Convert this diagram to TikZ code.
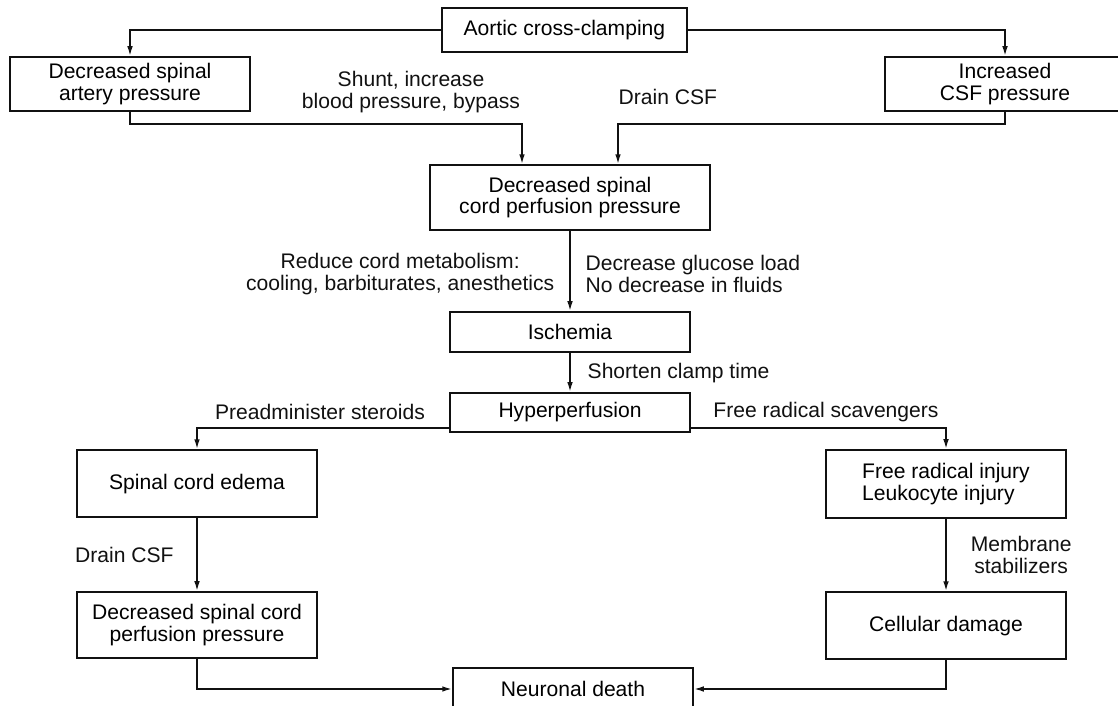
\documentclass[tikz,border=0pt]{standalone}
\usepackage{fontspec}
\setmainfont{Liberation Sans}
\usetikzlibrary{arrows.meta, positioning, calc}
\definecolor{InkBlack}{HTML}{111111}
\tikzset{
    % Node styles - plain boxes
    stagebox/.style={
        rectangle,
        draw=InkBlack,
        line width=1.3pt,
        fill=white,
        align=center,
        inner sep=2pt,
        minimum width=6cm,
        font=\fontsize{15}{15.5}\selectfont
    },
    % Text on the connectors
    treatlabel/.style={
        inner sep=1pt,
        text=InkBlack,
        font=\fontsize{15}{15.5}\selectfont
    },
    % Arrow styles
    myarrow/.style={
        -{Latex[length=7pt,width=4pt]},
        line width=1.2pt,
        InkBlack
    }
}
\begin{document}
\begin{tikzpicture}
    \useasboundingbox (0,0) rectangle (27.95,17.65);

    \node[stagebox, minimum width=6.125cm, minimum height=1.1cm] (aortic) at (14.11,16.9) {Aortic cross-clamping};
    \node[stagebox, minimum height=1.35cm] (artery) at (3.25,15.55) {Decreased spinal\\artery pressure};
    \node[stagebox, minimum height=1.35cm] (csf) at (25.125,15.55) {Increased\\CSF pressure};
    \node[stagebox, minimum width=7cm, minimum height=1.625cm] (cordpp) at (14.25,12.71) {Decreased spinal\\cord perfusion pressure};
    \node[stagebox, minimum height=1cm] (isch) at (14.25,9.35) {Ischemia};
    \node[stagebox, minimum height=0.975cm] (hyper) at (14.25,7.34) {Hyperperfusion};
    \node[stagebox, minimum height=1.675cm] (edema) at (4.925,5.56) {Spinal cord edema};
    \node[stagebox, minimum height=1.7cm, align=left] (freerad) at (23.65,5.55) {Free radical injury\\Leukocyte injury};
    \node[stagebox, minimum height=1.65cm] (lowcord) at (4.925,2.025) {Decreased spinal cord\\perfusion pressure};
    \node[stagebox, minimum height=1.675cm] (cellular) at (23.65,2.01) {Cellular damage};
    \node[stagebox, minimum height=1.05cm] (neuronal) at (14.325,0.425) {Neuronal death};

    % labels
    \node[treatlabel, align=center] (shuntlbl) at (10.275,15.34) {Shunt, increase\\blood pressure, bypass};
    \node[treatlabel, anchor=west] (drainlbl) at (15.425,15.225) {Drain CSF};
    \node[treatlabel, anchor=east, align=center] (reducelbl) at (13.9,10.8) {Reduce cord metabolism:\\cooling, barbiturates, anesthetics};
    \node[treatlabel, anchor=west, align=left] (glucoselbl) at (14.6,10.8) {Decrease glucose load\\No decrease in fluids};
    \node[treatlabel, anchor=west] (shortenlbl) at (14.65,8.33) {Shorten clamp time};
    \node[treatlabel] (steroidlbl) at (8.0,7.35) {Preadminister steroids};
    \node[treatlabel] (scavlbl) at (20.65,7.35) {Free radical scavengers};

    \draw[myarrow] (aortic.west) -| (artery);
    \draw[myarrow] (aortic.east) -| (csf);
    \draw[myarrow] (artery.south) -- ++(0,-0.3) -| ([xshift=-1.2cm]cordpp.north);
    \draw[myarrow] (csf.south) -- ++(0,-0.3) -| ([xshift=1.2cm]cordpp.north);
    \draw[myarrow] (cordpp) -- (isch);
    \draw[myarrow] (isch) -- (hyper);
    \draw[myarrow] ([yshift=0.125cm]hyper.south west) -| (edema);
    \draw[myarrow] ([yshift=0.125cm]hyper.south east) -| (freerad);
    \draw[myarrow] (edema) -- node[treatlabel, left=15pt] (drain2lbl) {Drain CSF} (lowcord);
    \draw[myarrow] (freerad) -- node[treatlabel, right=16pt, align=center] (memblbl) {Membrane\\stabilizers} (cellular);
    \draw[myarrow] (lowcord) |- (neuronal);
    \draw[myarrow] (cellular) |- (neuronal);
\end{tikzpicture}
\end{document}
